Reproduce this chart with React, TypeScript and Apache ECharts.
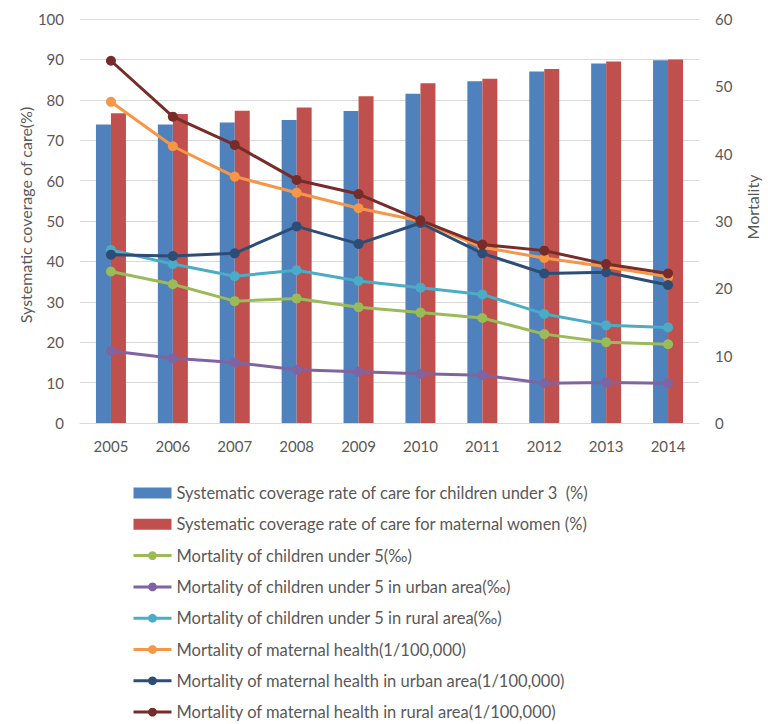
import React, { useEffect, useRef } from "react";
import * as echarts from "echarts";

const years = ["2005", "2006", "2007", "2008", "2009", "2010", "2011", "2012", "2013", "2014"];
const coverageChildren = [73.9, 73.9, 74.4, 75.0, 77.2, 81.5, 84.6, 87.0, 89.0, 89.8];
const coverageMaternal = [76.7, 76.5, 77.3, 78.1, 80.9, 84.1, 85.2, 87.6, 89.5, 90.0];
const mortChildren = [22.5, 20.6, 18.1, 18.5, 17.2, 16.4, 15.6, 13.2, 12.0, 11.7];
const mortChildrenUrban = [10.7, 9.6, 9.0, 7.9, 7.6, 7.3, 7.1, 5.9, 6.0, 5.9];
const mortChildrenRural = [25.7, 23.6, 21.8, 22.7, 21.1, 20.1, 19.1, 16.2, 14.5, 14.2];
const mortMaternal = [47.7, 41.1, 36.6, 34.2, 31.9, 30.0, 26.1, 24.5, 23.2, 21.7];
const mortMaternalUrban = [25.0, 24.8, 25.2, 29.2, 26.6, 29.7, 25.2, 22.2, 22.4, 20.5];
const mortMaternalRural = [53.8, 45.5, 41.3, 36.1, 34.0, 30.1, 26.5, 25.6, 23.6, 22.2];

const barNames = [
  "Systematic coverage rate of care for children under 3  (%)",
  "Systematic coverage rate of care for maternal women (%)",
];
const lineNames = [
  "Mortality of children under 5(‰)",
  "Mortality of children under 5 in urban area(‰)",
  "Mortality of children under 5 in rural area(‰)",
  "Mortality of maternal health(1/100,000)",
  "Mortality of maternal health in urban area(1/100,000)",
  "Mortality of maternal health in rural area(1/100,000)",
];
const barColors = ["#4F81BD", "#C0504D"];
const lineColors = ["#9BBB59", "#8064A2", "#4BACC6", "#F79646", "#2C4D75", "#772C2A"];

const FONT = "Lato";
const TXT = "#595959";

export default function App() {
  const ref = useRef<HTMLDivElement>(null);
  useEffect(() => {
    if (!ref.current) return;
    const chart = echarts.init(ref.current, null, { renderer: "svg" });
    const lineData = [mortChildren, mortChildrenUrban, mortChildrenRural, mortMaternal, mortMaternalUrban, mortMaternalRural];
    const barData = [coverageChildren, coverageMaternal];
    chart.setOption({
      animation: false,
      textStyle: { fontFamily: FONT },
      grid: { left: 80, right: 61, top: 19, bottom: 301, containLabel: false },
      legend: {
        orient: "vertical",
        left: 132,
        top: 484,
        padding: 0,
        height: 240,
        itemWidth: 38,
        itemHeight: 11,
        itemGap: 13.3,
        textStyle: { fontFamily: FONT, fontSize: 16.5, color: TXT, lineHeight: 18 },
        data: [
          ...barNames.map((n) => ({ name: n, icon: "rect" })),
          ...lineNames.map((n) => ({ name: n, lineStyle: { width: 3 } })),
        ],
      },
      xAxis: {
        type: "category",
        data: years,
        axisLine: { lineStyle: { color: "#D9D9D9", width: 1 } },
        axisTick: { show: false },
        axisLabel: { color: TXT, fontSize: 15, fontFamily: FONT, margin: 15 },
      },
      yAxis: [
        {
          type: "value",
          min: 0,
          max: 100,
          interval: 10,
          name: "Systematic coverage of care(%)",
          nameLocation: "middle",
          nameRotate: 90,
          nameGap: 47,
          nameMoveOverlap: false,
          nameTextStyle: { color: TXT, fontSize: 16, fontFamily: FONT, padding: [0, 0, 0, 12] },
          axisLine: { show: false },
          axisTick: { show: false },
          axisLabel: { color: TXT, fontSize: 15, fontFamily: FONT, margin: 16 },
          splitLine: { lineStyle: { color: "#D9D9D9", width: 1 } },
        },
        {
          type: "value",
          min: 0,
          max: 60,
          interval: 10,
          name: "Mortality",
          nameLocation: "middle",
          nameRotate: 90,
          nameGap: 45,
          nameMoveOverlap: false,
          nameTextStyle: { color: TXT, fontSize: 16, fontFamily: FONT, padding: [0, 0, 0, 28] },
          axisLine: { show: false },
          axisTick: { show: false },
          axisLabel: { color: TXT, fontSize: 15, fontFamily: FONT, margin: 16 },
          splitLine: { show: false },
        },
      ],
      series: [
        ...barData.map((d, i) => ({
          name: barNames[i],
          type: "bar",
          yAxisIndex: 0,
          data: d,
          barWidth: 15,
          barGap: "0%",
          itemStyle: { color: barColors[i] },
        })),
        ...lineData.map((d, i) => ({
          name: lineNames[i],
          type: "line",
          yAxisIndex: 1,
          data: d,
          symbol: "circle",
          symbolSize: 10,
          lineStyle: { color: lineColors[i], width: 3 },
          itemStyle: { color: lineColors[i] },
        })),
      ],
    });
    return () => chart.dispose();
  }, []);
  return <div ref={ref} style={{ width: 768, height: 724, position: "absolute", left: 0, top: 0 }} />;
}
